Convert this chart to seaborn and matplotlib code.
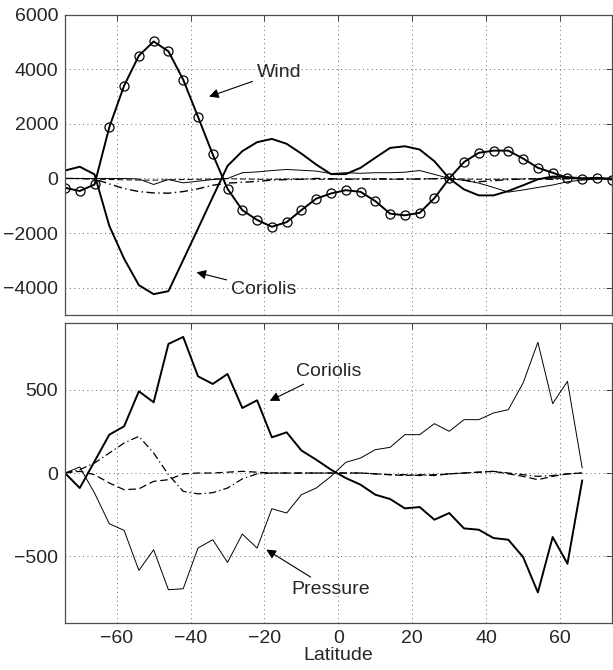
"""
Zonal momentum balance terms vs latitude (two panels), redrawn with seaborn.
"""
import matplotlib
matplotlib.use("Agg")
import matplotlib.pyplot as plt
import seaborn as sns

# ---- data ----
lat_top = [-74, -70, -66, -62, -58, -54, -50, -46, -42, -38, -34, -30, -26, -22,
           -18, -14, -10, -6, -2, 2, 6, 10, 14, 18, 22, 26, 30, 34, 38, 42, 46,
           50, 54, 58, 62, 66, 70, 74]
wind_top = [-340, -460, -220, 1880, 3400, 4500, 5020, 4660, 3620, 2260, 880, -380,
            -1160, -1520, -1770, -1600, -1160, -740, -550, -430, -490, -830, -1290,
            -1350, -1260, -720, 0, 600, 940, 1020, 1020, 730, 390, 210, 25, -10, 25, -40]
coriolis_top = [290, 430, 150, -1740, -2940, -3910, -4240, -4130, -2990, -1840, -680,
                460, 1000, 1330, 1450, 1270, 910, 510, 160, 160, 390, 760, 1120, 1180,
                1060, 630, 0, -400, -620, -620, -460, -250, -30, 70, 50, 0, 0, 0]
pressure_top = [0, 0, 0, 0, 0, -20, -220, -40, -160, -100, -40, 0, 210, 240, 290,
                330, 300, 270, 180, 210, 190, 210, 210, 230, 290, 150, 0, -70, -170,
                -330, -500, -420, -330, -240, -120, -60, -20, 0]
dashdot_top = [0, 0, -20, -200, -370, -480, -530, -540, -480, -380, -250, -170, -140,
               -110, -60, -40, -30, 0, -10, -30, -20, -10, -20, -30, -20, -10, 0, -60,
               -120, -80, -40, -20, -10, -30, -10, 0, 0, 0]
dashed_top = [0, -10, -20, -40, -50, -60, -60, -50, -40, -30, -20, -10, -20, -30, -30,
              -20, -20, -30, -30, -20, -20, -30, -30, -20, -20, -10, 0, -20, -30, -30,
              -20, -20, -10, -10, 0, 0, 0, 0]

lat_bot = [-74, -70, -66, -62, -58, -54, -50, -46, -42, -38, -34, -30, -26, -22,
           -18, -14, -10, -6, -2, 2, 6, 10, 14, 18, 22, 26, 30, 34, 38, 42, 46,
           50, 54, 58, 62, 66]
coriolis_bot = [0, -90, 70, 230, 280, 490, 424, 774, 816, 580, 534, 594, 390, 436,
                214, 244, 135, 80, 20, -30, -70, -130, -156, -212, -204, -280, -240,
                -332, -340, -390, -400, -504, -716, -384, -544, -44]
pressure_bot = [0, 36, -120, -304, -344, -584, -460, -700, -694, -450, -400, -536,
                -366, -450, -214, -240, -130, -90, -20, 64, 90, 140, 154, 230, 230,
                296, 250, 320, 320, 360, 380, 540, 784, 416, 550, 30]
dashdot_bot = [0, 20, 60, 120, 180, 220, 120, -10, -110, -125, -118, -90, -35, -5,
               0, 0, 0, 0, 0, 0, 0, -5, -10, -10, -15, -10, -5, 0, 5, 10, 0, -10,
               -20, -15, -5, 0]
dashed_bot = [0, 10, -10, -60, -100, -95, -50, -40, -5, 0, 0, 5, 10, 5, 0, 0, 0, 0,
              0, 0, 0, -5, -10, -15, -10, -15, -5, 0, 5, 10, -5, -20, -40, -20, -5, 0]

x_ticks = [-60, -40, -20, 0, 20, 40, 60]
y_ticks_top = [-4000, -2000, 0, 2000, 4000, 6000]
y_ticks_bot = [-500, 0, 500]

sns.set_style("white")
plt.rcParams["font.family"] = ["Liberation Sans", "DejaVu Sans"]
plt.rcParams["font.size"] = 14
plt.rcParams["xtick.direction"] = "in"
plt.rcParams["ytick.direction"] = "in"

fig = plt.figure(figsize=(6.13, 6.70), dpi=100)
ax1 = fig.add_axes([0.106, 0.530, 0.892, 0.448])
ax2 = fig.add_axes([0.106, 0.070, 0.892, 0.448])

thick = 1.4
thin = 0.7
dash = (6, 3)
dashdot = (6, 2.5, 1, 2.5)

# top panel
sns.lineplot(x=lat_top, y=wind_top, ax=ax1, color="black", lw=thick, marker="o",
             markersize=6.5, markerfacecolor="none", markeredgecolor="black",
             markeredgewidth=0.9)
sns.lineplot(x=lat_top, y=coriolis_top, ax=ax1, color="black", lw=thick)
sns.lineplot(x=lat_top, y=pressure_top, ax=ax1, color="black", lw=thin)
sns.lineplot(x=lat_top, y=dashdot_top, ax=ax1, color="black", lw=1.0, dashes=dashdot)
sns.lineplot(x=lat_top, y=dashed_top, ax=ax1, color="black", lw=thin, dashes=dash)

# bottom panel
sns.lineplot(x=lat_bot, y=coriolis_bot, ax=ax2, color="black", lw=thick)
sns.lineplot(x=lat_bot, y=pressure_bot, ax=ax2, color="black", lw=thin)
sns.lineplot(x=lat_bot, y=dashdot_bot, ax=ax2, color="black", lw=0.9, dashes=dashdot)
sns.lineplot(x=lat_bot, y=dashed_bot, ax=ax2, color="black", lw=0.9, dashes=dash)

arrow = dict(arrowstyle="-|>", color="black", lw=0.8, mutation_scale=14,
             shrinkA=1, shrinkB=0)
ax1.annotate("Wind", xy=(-35, 3000), xytext=(-22, 3900), ha="left", va="center",
             arrowprops=arrow)
ax1.annotate("Coriolis", xy=(-38.4, -3440), xytext=(-29, -4060), ha="left",
             va="center", arrowprops=arrow)
ax2.annotate("Coriolis", xy=(-18.6, 433), xytext=(-11.4, 607), ha="left",
             va="center", arrowprops=arrow)
ax2.annotate("Pressure", xy=(-19.5, -459), xytext=(-12.7, -699), ha="left",
             va="center", arrowprops=arrow)

for ax, yl, yt in [(ax1, (-5000, 6000), y_ticks_top), (ax2, (-900, 900), y_ticks_bot)]:
    ax.set_xlim(-74, 74)
    ax.set_ylim(*yl)
    ax.set_xticks(x_ticks)
    ax.set_yticks(yt)
    ax.grid(True, linestyle=(0, (1, 3.5)), color="0.4", lw=0.7)
    ax.tick_params(top=True, right=True, length=4, width=0.6, labelsize=14, pad=5)
    for s in ax.spines.values():
        s.set_color("0.3")
        s.set_linewidth(0.9)
    ax.set_ylabel("")
    ax.set_xlabel("")

ax1.set_xticklabels([])
ax2.set_xlabel("Latitude", fontsize=14, labelpad=0)

fig.savefig("out.png", dpi=100)
